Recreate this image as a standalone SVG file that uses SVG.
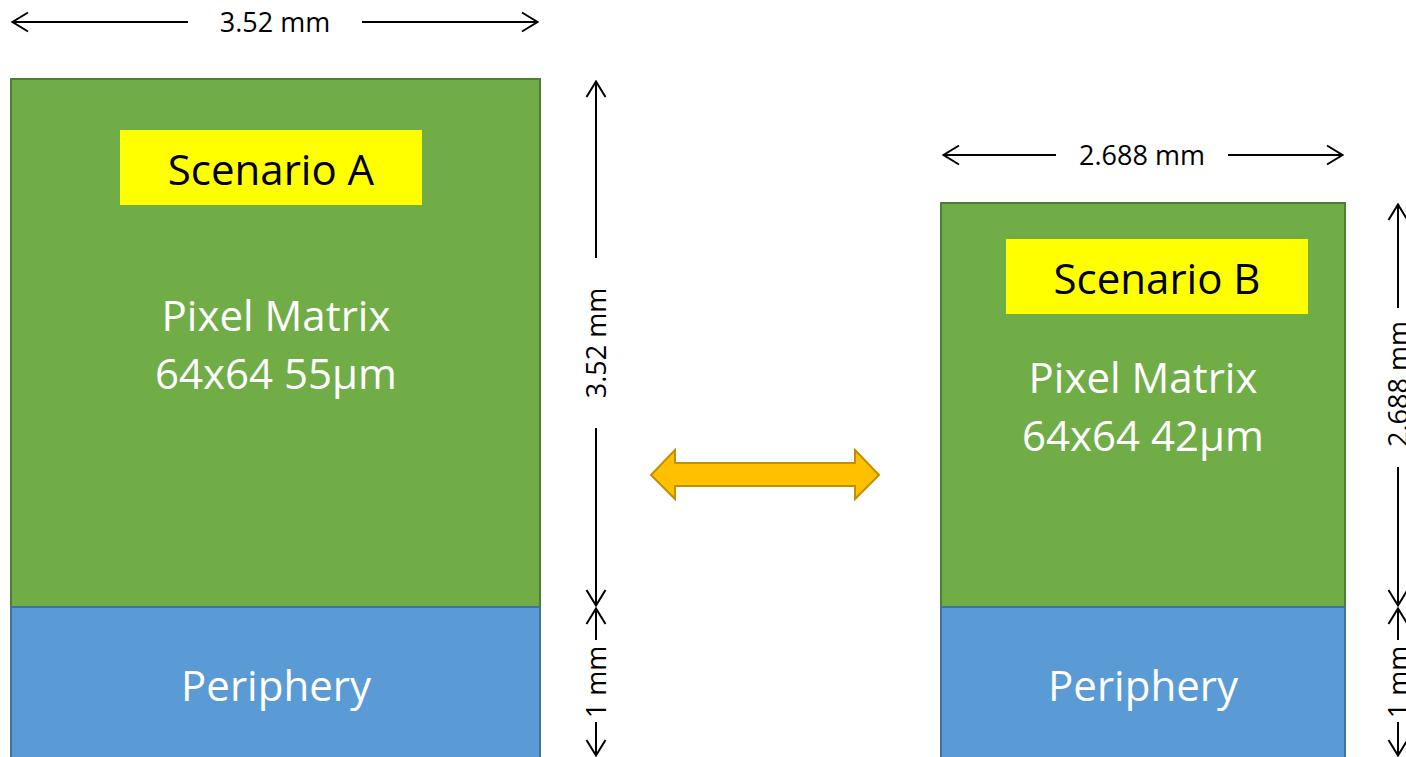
<svg xmlns="http://www.w3.org/2000/svg" width="1406" height="757" viewBox="0 0 1406 757">
<defs>
<marker id="ah" viewBox="0 0 18 22" refX="17" refY="11" markerWidth="18" markerHeight="22" markerUnits="userSpaceOnUse" orient="auto-start-reverse">
<path d="M1,1.5 L16.5,11 L1,20.5" fill="none" stroke="#000" stroke-width="2"/>
</marker>
<style>
.green{fill:#70AD47;stroke:#507E32;stroke-width:2}
.blue{fill:#5B9BD5;stroke:#41719C;stroke-width:2}
.yel{fill:#FFFF00}
.big{font-family:"Open Sans",Lato,sans-serif;font-size:42px;text-anchor:middle}
.w{fill:#fff}
.k{fill:#000}
.dim{font-family:"Open Sans",Lato,sans-serif;font-size:27px;text-anchor:middle;fill:#000}
.dl{stroke:#000;stroke-width:2;fill:none}
</style>
</defs>
<g id="nodeA">
<rect class="green" x="11" y="79" width="529" height="528"/>
<rect class="blue" x="11" y="607" width="529" height="160"/>
<rect class="yel" x="120" y="130" width="302" height="75"/>
<text class="big k" x="271" y="185">Scenario A</text>
<text class="big w" x="276" y="331">Pixel Matrix</text>
<text class="big w" x="276" y="389">64x64 55µm</text>
<text class="big w" x="276" y="701">Periphery</text>
</g>
<g id="nodeB">
<rect class="green" x="941" y="203" width="404" height="404"/>
<rect class="blue" x="941" y="607" width="404" height="160"/>
<rect class="yel" x="1006" y="239" width="302" height="75"/>
<text class="big k" x="1157" y="294">Scenario B</text>
<text class="big w" x="1143" y="393">Pixel Matrix</text>
<text class="big w" x="1143" y="451">64x64 42µm</text>
<text class="big w" x="1143" y="701">Periphery</text>
</g>
<g id="swap">
<polygon points="651,475 675,450 675,463 855,463 855,450 879,475 855,499 855,486 675,486 675,499" fill="#FFC000" stroke="#BF9000" stroke-width="2"/>
</g>
<g id="connectors">
<line class="dl" x1="12" y1="22" x2="188" y2="22" marker-start="url(#ah)"/>
<line class="dl" x1="362" y1="22" x2="538" y2="22" marker-end="url(#ah)"/>
<text class="dim" x="275" y="32">3.52 mm</text>
<line class="dl" x1="596" y1="81" x2="596" y2="258" marker-start="url(#ah)"/>
<line class="dl" x1="596" y1="428" x2="596" y2="606" marker-end="url(#ah)"/>
<text class="dim" transform="translate(606,343) rotate(-90)">3.52 mm</text>
<line class="dl" x1="596" y1="608" x2="596" y2="640" marker-start="url(#ah)"/>
<line class="dl" x1="596" y1="722" x2="596" y2="756" marker-end="url(#ah)"/>
<text class="dim" transform="translate(606,682) rotate(-90)">1 mm</text>
<line class="dl" x1="943" y1="155" x2="1056" y2="155" marker-start="url(#ah)"/>
<line class="dl" x1="1228" y1="155" x2="1343" y2="155" marker-end="url(#ah)"/>
<text class="dim" x="1142" y="165">2.688 mm</text>
<line class="dl" x1="1398" y1="204" x2="1398" y2="308" marker-start="url(#ah)"/>
<line class="dl" x1="1398" y1="467" x2="1398" y2="606" marker-end="url(#ah)"/>
<text class="dim" transform="translate(1408,384) rotate(-90)">2.688 mm</text>
<line class="dl" x1="1398" y1="608" x2="1398" y2="640" marker-start="url(#ah)"/>
<line class="dl" x1="1398" y1="722" x2="1398" y2="756" marker-end="url(#ah)"/>
<text class="dim" transform="translate(1408,682) rotate(-90)">1 mm</text>
</g>
</svg>
